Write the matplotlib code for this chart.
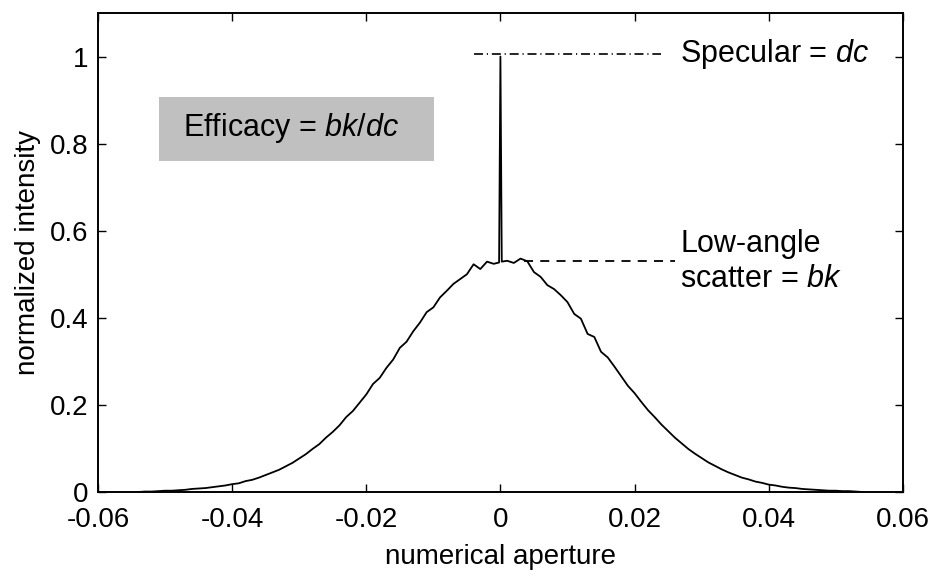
import numpy as np
import matplotlib
matplotlib.use("Agg")
import matplotlib.pyplot as plt
from matplotlib.patches import Rectangle

plt.rcParams["font.family"] = "Liberation Sans"
plt.rcParams["mathtext.fontset"] = "custom"
plt.rcParams["mathtext.rm"] = "Liberation Sans"
plt.rcParams["mathtext.it"] = "Liberation Sans:italic"
plt.rcParams["axes.unicode_minus"] = False

na = np.round(np.arange(-0.054, 0.0545, 0.001), 3)
intensity = [
    0.000, 0.001, 0.001, 0.002, 0.003, 0.003, 0.004, 0.005, 0.007, 0.008,
    0.009, 0.011, 0.013, 0.015, 0.018, 0.020, 0.025, 0.028, 0.033, 0.039,
    0.045, 0.051, 0.059, 0.067, 0.077, 0.087, 0.099, 0.110, 0.125, 0.138,
    0.153, 0.172, 0.186, 0.205, 0.224, 0.248, 0.262, 0.285, 0.304, 0.331,
    0.345, 0.369, 0.389, 0.413, 0.424, 0.447, 0.462, 0.478, 0.489, 0.500,
    0.523, 0.512, 0.529, 0.524,
    1.000,
    0.531, 0.526, 0.536, 0.530, 0.505, 0.494, 0.475, 0.466, 0.452, 0.436,
    0.409, 0.398, 0.363, 0.356, 0.322, 0.309, 0.288, 0.266, 0.244, 0.227,
    0.207, 0.188, 0.172, 0.155, 0.140, 0.125, 0.112, 0.099, 0.088, 0.078,
    0.068, 0.060, 0.052, 0.045, 0.039, 0.033, 0.029, 0.024, 0.021, 0.017,
    0.015, 0.012, 0.010, 0.009, 0.007, 0.006, 0.005, 0.004, 0.003, 0.003,
    0.002, 0.002, 0.001, 0.000,
]

# base of the specular spike
spike_na = [-0.0002, 0.0002]
spike_val = [0.527, 0.529]

specular_level = 1.005   # dc
scatter_level = 0.53     # bk

xticks = [-0.06, -0.04, -0.02, 0, 0.02, 0.04, 0.06]
xticklabels = ["-0.06", "-0.04", "-0.02", "0", "0.02", "0.04", "0.06"]
yticks = [0, 0.2, 0.4, 0.6, 0.8, 1]
yticklabels = ["0", "0.2", "0.4", "0.6", "0.8", "1"]

x = np.concatenate([na, spike_na])
y = np.concatenate([intensity, spike_val])
order = np.argsort(x, kind="stable")

fig = plt.figure(figsize=(9.38, 5.78), dpi=100)
ax = fig.add_axes([0.1045, 0.1488, 0.858, 0.8287])

ax.plot(x[order], y[order], color="black", lw=1.3)

# annotation lines
ax.plot([-0.004, 0.024], [specular_level, specular_level], color="black",
        lw=1.2, ls=(0, (5.4, 2.3, 0.7, 2.3)))
ax.plot([0.0035, 0.026], [scatter_level, scatter_level], color="black",
        lw=1.3, ls=(0, (5.0, 4.0)))

ax.text(0.0268, specular_level, "Specular = $dc$", fontsize=22,
        va="center", ha="left")
ax.text(0.0268, scatter_level, "Low-angle\nscatter = $bk$", fontsize=22,
        va="center", ha="left", linespacing=1.2)

ax.add_patch(Rectangle((-0.0509, 0.761), 0.041, 0.145,
                       facecolor="#c0c0c0", edgecolor="none"))
ax.text(-0.0473, 0.836, "Efficacy = $bk/dc$", fontsize=22,
        va="center", ha="left")

ax.set_xlim(-0.06, 0.06)
ax.set_ylim(0, 1.1)
ax.set_xticks(xticks)
ax.set_xticklabels(xticklabels)
ax.set_yticks(yticks)
ax.set_yticklabels(yticklabels)
ax.tick_params(direction="in", top=True, right=True, length=5.8,
               width=1, labelsize=20)
ax.tick_params(axis="x", pad=10.5)
ax.tick_params(axis="y", pad=7)
for s in ax.spines.values():
    s.set_linewidth(1.4)

ax.set_xlabel("numerical aperture", fontsize=20, labelpad=8)
ax.set_ylabel("normalized intensity", fontsize=20, labelpad=6)

fig.savefig("out.png", dpi=100)
